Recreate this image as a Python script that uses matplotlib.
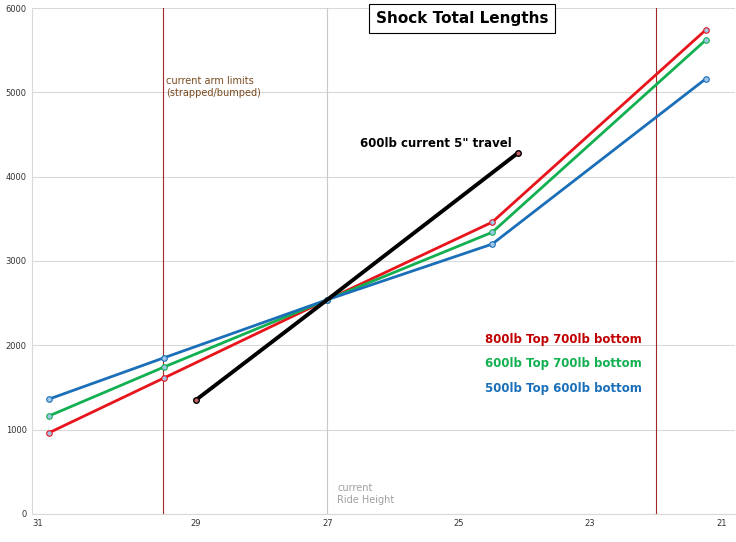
import matplotlib.pyplot as plt

# x positions (ride height), reversed axis
x_pts = [31.24, 29.49, 27.0, 24.49, 21.24]
red = [960, 1610, 2540, 3460, 5740]
green = [1160, 1740, 2540, 3340, 5620]
blue = [1360, 1850, 2540, 3200, 5160]
black_x = [29.0, 27.0, 24.1]
black_y = [1350, 2540, 4280]
tick_pos = [31.41, 29, 27, 25, 23, 21]
tick_lab = ["31", "29", "27", "25", "23", "21"]
arm_limits = [29.5, 22.0]
ride_height = 27.0

fig = plt.figure(figsize=(7.36, 5.42), dpi=100)
ax = fig.add_axes([0.043, 0.052, 0.955, 0.933])

ax.set_xlim(31.5, 20.8)
ax.set_ylim(0, 6000)
ax.set_yticks(range(0, 6001, 1000))
ax.set_xticks(tick_pos)
ax.set_xticklabels(tick_lab)
ax.tick_params(labelsize=6, length=0, colors="#333333")
ax.grid(axis="y", color="#d9d9d9", lw=0.8)
for s in ["top", "right"]:
    ax.spines[s].set_visible(False)
ax.spines["left"].set_color("#d9d9d9")
ax.spines["bottom"].set_color("#d9d9d9")

for x in arm_limits:
    ax.axvline(x, color="#a02828", lw=0.8)
ax.axvline(ride_height, color="#c8c8c8", lw=0.8)

for y, c in [(red, "#e8141c"), (green, "#12b050"), (blue, "#1a6fb8")]:
    ax.plot(x_pts, y, "-", color=c, lw=2.0, marker="o", ms=4, mfc="#9fc8e8", mec=c, mew=0.8)
ax.plot(black_x, black_y, "-", color="black", lw=2.8)
ax.plot([black_x[0], black_x[-1]], [black_y[0], black_y[-1]], "o", ms=4, mfc="#c06060", mec="black")

ax.text(29.45, 5190, "current arm limits\n(strapped/bumped)", fontsize=7, color="#7a4a20", va="top")
ax.text(26.85, 130, "current\nRide Height", fontsize=7, color="#a0a0a0")
ax.text(26.5, 4350, "600lb current 5\" travel", fontsize=8.5, weight="bold")
ax.text(24.6, 2030, "800lb Top 700lb bottom", fontsize=8.5, weight="bold", color="#c00000")
ax.text(24.6, 1740, "600lb Top 700lb bottom", fontsize=8.5, weight="bold", color="#12b050")
ax.text(24.6, 1450, "500lb Top 600lb bottom", fontsize=8.5, weight="bold", color="#1a6fb8")
ax.text(24.95, 5880, "Shock Total Lengths", fontsize=11, weight="bold", ha="center", va="center",
        bbox=dict(facecolor="white", edgecolor="black", lw=0.8, pad=5))

fig.savefig("out.png", dpi=100)
